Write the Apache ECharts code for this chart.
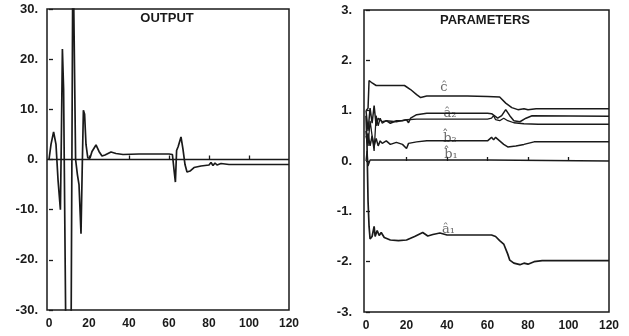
<!DOCTYPE html>
<html>
<head>
<meta charset="utf-8">
<script src="https://cdn.jsdelivr.net/npm/echarts@6/dist/echarts.min.js"></script>
<style>html,body{margin:0;padding:0;background:#fff}#c{width:629px;height:336px}</style>
</head>
<body>
<div id="c"></div>
<script>
// ---- data ----
const xTicks = [0, 20, 40, 60, 80, 100, 120];
const outputData = [[0,0],[1,3],[2.3,5.5],[3.5,3],[4.5,-4],[5.7,-10],[6.2,5],[6.7,22],[7.3,14],[8.3,-30],[8.8,-60],[10.6,-60],[11.1,-30],[11.8,30],[12.1,60],[12.4,30],[13.3,0],[14.2,-3],[15.0,-5],[16.0,-14.8],[16.6,-2],[17.2,9.8],[17.8,9],[18.5,3],[19.4,0.3],[20.5,0.3],[21.5,1.6],[23.5,2.9],[25,1.6],[26.5,0.7],[28,0.9],[31,1.5],[33.5,1.2],[37,1.0],[45,1.1],[60,1.1],[61.7,1.0],[62.5,-2],[63.2,-4.5],[63.8,1.8],[64.6,2.6],[66,4.5],[67,2],[68,-1],[69,-2.5],[70.5,-2.3],[72.5,-1.6],[76,-1.3],[80,-1.1],[81,-0.6],[82,-1.2],[83,-0.7],[84,-1.1],[86,-0.8],[90,-1.0],[120,-1.0]];
const referenceData = [[-1,0],[120,0]];
const cData = [[0,1.0],[1,1.05],[1.5,1.6],[3,1.55],[5,1.5],[19,1.5],[22,1.42],[25,1.32],[27,1.26],[30,1.29],[50,1.29],[60,1.28],[66,1.27],[69,1.15],[72,1.06],[75,1.02],[78,1.04],[80,1.02],[84,1.04],[120,1.04]];
const a2Data = [[0,1.0],[1,0.6],[2,1.05],[3,0.75],[4,1.1],[5,0.7],[6,0.85],[8,0.78],[10,0.8],[12,0.75],[15,0.8],[18,0.8],[20,0.82],[21,0.76],[22,0.85],[25,0.92],[30,0.95],[60,0.95],[62,0.94],[64,0.88],[65,0.85],[67,0.9],[69,1.02],[71,0.9],[73,0.8],[76,0.78],[79,0.85],[82,0.9],[120,0.89]];
const p3Data = [[0,0.5],[1,0.3],[2,0.8],[3,0.5],[4,0.2],[5,0.9],[6,0.7],[7,0.85],[8,0.75],[10,0.8],[15,0.78],[20,0.82],[25,0.83],[60,0.83],[62,0.85],[63,0.9],[64,0.82],[66,0.8],[68,0.85],[70,0.8],[73,0.76],[78,0.74],[85,0.73],[120,0.73]];
const b2Data = [[0,0.6],[0.5,0.4],[1,0.55],[2,0.3],[3,0.5],[4,0.3],[5,0.45],[6,0.3],[7,0.4],[8,0.35],[10,0.4],[12,0.33],[15,0.37],[18,0.33],[20,0.25],[21,0.35],[25,0.38],[30,0.4],[60,0.4],[62,0.47],[63,0.42],[64,0.47],[66,0.4],[68,0.33],[70,0.28],[74,0.3],[78,0.33],[83,0.38],[120,0.38]];
const b1Data = [[0,0.0],[0.5,0.2],[1,-0.1],[2,0.02],[60,0.02],[120,0.0]];
const a1Data = [[0,0.9],[0.5,0.3],[1,-0.8],[1.5,-1.3],[2,-1.55],[3,-1.5],[4,-1.3],[4.5,-1.5],[5.5,-1.38],[6.5,-1.48],[7.5,-1.42],[9,-1.52],[12,-1.57],[16,-1.58],[20,-1.57],[24,-1.5],[28,-1.42],[30.5,-1.49],[33,-1.46],[36.5,-1.43],[40,-1.47],[62,-1.47],[64,-1.5],[66,-1.58],[68,-1.65],[70,-1.85],[71,-1.97],[73,-2.03],[76,-2.06],[78,-2.03],[80,-2.05],[83,-2.0],[87,-1.98],[120,-1.98]];
const paramLabels = [[38.5,1.46,'ĉ'],[41.5,0.95,'â₂'],[41.5,0.45,'b̂₂'],[42,0.12,'b̂₁'],[40.7,-1.37,'â₁']];
const titles = ['OUTPUT', 'PARAMETERS'];

// ---- styles ----
const ink = '#1a1a1a';
const sans = "'Liberation Sans', Arial, sans-serif";
const tickFont = {fontFamily: sans, fontWeight: 'bold', color: ink};
function lineSeries(data, xi, w) {
  return {type: 'line', xAxisIndex: xi, yAxisIndex: xi, data: data, showSymbol: false, symbol: 'none',
    lineStyle: {color: ink, width: w || 1.5}, clip: true, silent: true};
}
function xAxisCfg(gi) {
  return {gridIndex: gi, type: 'value', min: -1, max: 120,
    splitLine: {show: false}, axisLine: {show: false},
    axisTick: {show: true, inside: true, length: 4, customValues: [20, 40, 60, 80, 100], lineStyle: {color: ink, width: 1.3}},
    axisLabel: Object.assign({customValues: xTicks, margin: 8, fontSize: 12}, tickFont)};
}
function yAxisCfg(gi, lim, step, margin) {
  return {gridIndex: gi, type: 'value', min: -lim, max: lim, interval: step,
    splitLine: {show: false}, axisLine: {show: false},
    axisTick: {show: true, inside: true, length: 4, lineStyle: {color: ink, width: 1.3}},
    axisLabel: Object.assign({margin: margin, fontSize: 13, formatter: v => v + '.'}, tickFont)};
}
const gridStyle = {show: true, borderColor: ink, borderWidth: 1.5, backgroundColor: 'transparent', containLabel: false};
const titleStyle = {fontFamily: sans, fontWeight: 'bold', fontSize: 13, color: ink};

const option = {
  animation: false,
  backgroundColor: '#ffffff',
  title: [
    {text: titles[0], left: 167, top: 12, textAlign: 'center', padding: 0, textStyle: titleStyle},
    {text: titles[1], left: 485, top: 14, textAlign: 'center', padding: 0, textStyle: titleStyle}
  ],
  grid: [
    Object.assign({left: 47, top: 9, width: 242, height: 301}, gridStyle),
    Object.assign({left: 364, top: 10, width: 245, height: 302}, gridStyle)
  ],
  xAxis: [xAxisCfg(0), xAxisCfg(1)],
  yAxis: [yAxisCfg(0, 30, 10, 9), yAxisCfg(1, 3, 1, 12)],
  series: [
    lineSeries(referenceData, 0, 1.5),
    lineSeries(outputData, 0, 1.7),
    lineSeries(cData, 1),
    lineSeries(a2Data, 1),
    lineSeries(p3Data, 1, 1.3),
    lineSeries(b2Data, 1),
    lineSeries(b1Data, 1, 1.3),
    lineSeries(a1Data, 1, 1.7),
    {type: 'scatter', xAxisIndex: 1, yAxisIndex: 1, data: paramLabels, symbolSize: 1, silent: true,
      itemStyle: {color: 'rgba(0,0,0,0)'},
      label: {show: true, position: 'inside', formatter: p => p.value[2],
        fontFamily: "'DejaVu Serif', serif", fontSize: 13, color: '#444'}}
  ]
};
echarts.init(document.getElementById('c'), null, {renderer: 'canvas'}).setOption(option);
</script>
</body>
</html>
